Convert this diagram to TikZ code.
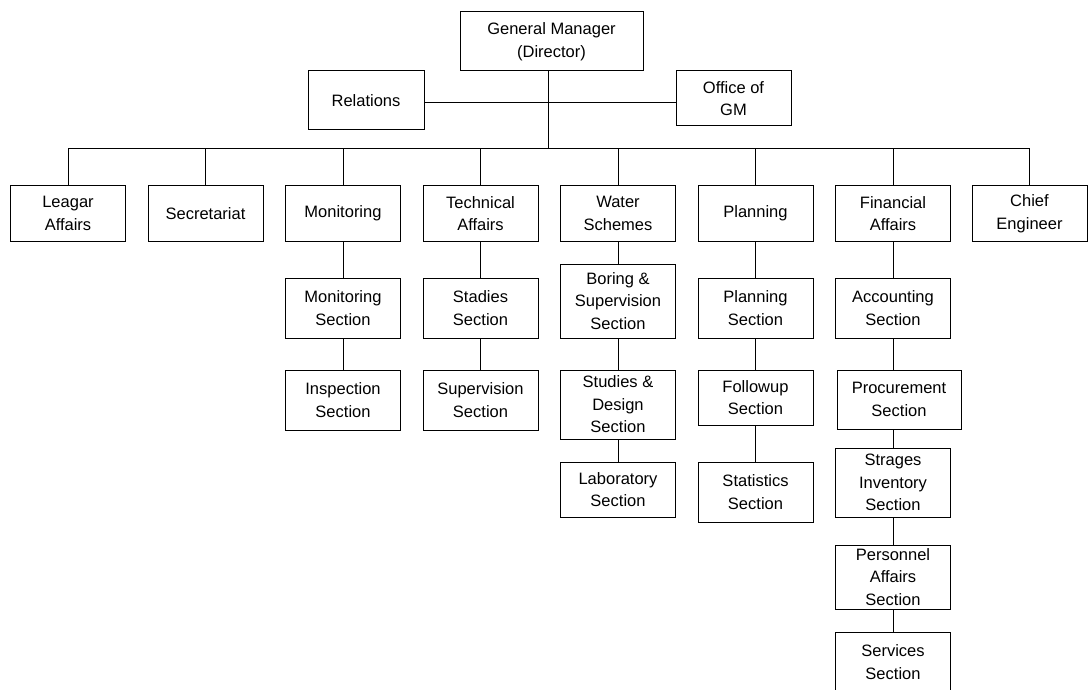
\documentclass[tikz,border=0pt]{standalone}
\usepackage{fontspec}
\setmainfont{Liberation Sans}
\begin{document}
\begin{tikzpicture}[x=1pt,y=-1pt,
  unit/.style={draw=black, line width=1pt, fill=white, inner sep=0pt,
    minimum width=115pt, align=center,
    font=\fontsize{16.5}{22.5}\selectfont},
  link/.style={draw=black, line width=1pt}]
\useasboundingbox (0,0) rectangle (1088,690);
\clip (0,0) rectangle (1088,690);

% top management
\node[unit, minimum width=183pt, minimum height=59pt] (gm) at (551.5,41.5) {General Manager\\(Director)};
\node[unit, minimum width=116pt, minimum height=59pt] (rel) at (366,100.5) {Relations};
\node[unit, minimum height=55pt] (office) at (733.5,98.5) {Office of\\GM};
\coordinate (hub) at (548,103);
\coordinate (trunk) at (548,149);

% departments
\node[unit, minimum height=55pt] (legal) at (68,213.5) {Leagar\\Affairs};
\node[unit, minimum height=55pt] (secr) at (205.5,213.5) {Secretariat};
\node[unit, minimum height=55pt] (mon) at (343,213.5) {Monitoring};
\node[unit, minimum height=55pt] (tech) at (480.5,213.5) {Technical\\Affairs};
\node[unit, minimum height=55pt] (water) at (618,213.5) {Water\\Schemes};
\node[unit, minimum height=55pt] (plan) at (755.5,213.5) {Planning};
\node[unit, minimum height=55pt] (fin) at (893,213.5) {Financial\\Affairs};
\node[unit, minimum height=55pt] (chief) at (1029.5,213.5) {Chief\\Engineer};

% monitoring sections
\node[unit, minimum height=60pt] (monsec) at (343,308) {Monitoring\\Section};
\node[unit, minimum height=60pt] (insp) at (343,400) {Inspection\\Section};

% technical sections
\node[unit, minimum height=60pt] (stad) at (480.5,308) {Stadies\\Section};
\node[unit, minimum height=60pt] (supv) at (480.5,400) {Supervision\\Section};

% water schemes sections
\node[unit, minimum height=74pt] (boring) at (618,301) {Boring \&\\Supervision\\Section};
\node[unit, minimum height=69pt] (design) at (618,404.5) {Studies \&\\Design\\Section};
\node[unit, minimum height=55pt] (lab) at (618,489.5) {Laboratory\\Section};

% planning sections
\node[unit, minimum height=60pt] (plansec) at (755.5,308) {Planning\\Section};
\node[unit, minimum height=55pt] (follow) at (755.5,397.5) {Followup\\Section};
\node[unit, minimum height=60pt] (stat) at (755.5,492) {Statistics\\Section};

% financial sections
\node[unit, minimum height=60pt] (acc) at (893,308) {Accounting\\Section};
\node[unit, minimum width=124pt, minimum height=59pt] (proc) at (899,399.5) {Procurement\\Section};
\node[unit, minimum height=69pt] (store) at (893,482.5) {Strages\\Inventory\\Section};
\node[unit, minimum height=64pt] (pers) at (893,577) {Personnel\\Affairs\\Section};
\node[unit, minimum height=60pt] (serv) at (893,662) {Services\\Section};

% connectors: top level
\path[link] (rel.east |- hub) -- (office.west |- hub);
\path[link] (gm.south -| trunk) -- (trunk);
\path[link] (legal.north |- trunk) -- (chief.north |- trunk);
\foreach \d in {legal,secr,mon,tech,water,plan,fin,chief}
  \path[link] (\d.north) -- (\d.north |- trunk);

% connectors: sections
\path[link] (mon) -- (monsec) (monsec) -- (insp);
\path[link] (tech) -- (stad) (stad) -- (supv);
\path[link] (water) -- (boring) (boring) -- (design) (design) -- (lab);
\path[link] (plan) -- (plansec) (plansec) -- (follow) (follow) -- (stat);
\path[link] (fin.south) -- (acc.north) (acc.south) -- (acc.south |- proc.north);
\path[link] (store.north) -- (proc.south -| store.north);
\path[link] (store) -- (pers) (pers) -- (serv);
\end{tikzpicture}
\end{document}
